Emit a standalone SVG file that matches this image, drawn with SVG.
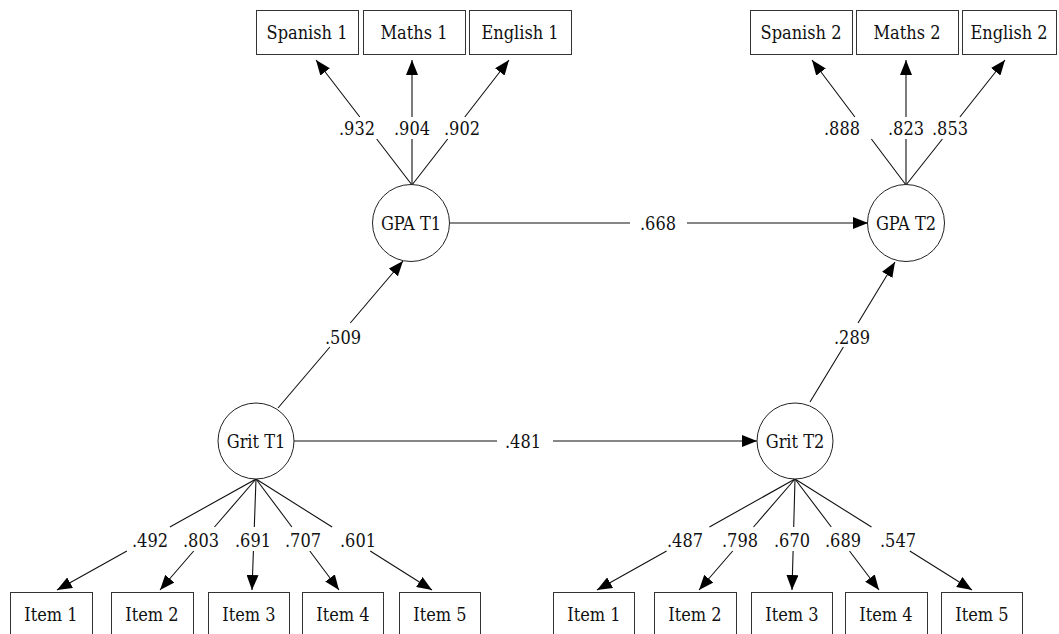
<svg xmlns="http://www.w3.org/2000/svg" width="1059" height="634" viewBox="0 0 1059 634">
<style>
text{font-family:"DejaVu Serif Condensed","DejaVu Serif",serif;font-stretch:condensed;font-size:18px;fill:#111;text-anchor:middle;dominant-baseline:central}
.box{fill:#fff;stroke:#333;stroke-width:1}
.lat{fill:#fff;stroke:#222;stroke-width:1}
.conn path{fill:none;stroke:#111;stroke-width:1.1;marker-end:url(#ah)}
</style>
<defs>
<marker id="ah" markerUnits="userSpaceOnUse" markerWidth="16" markerHeight="12" refX="15" refY="6" orient="auto">
<path d="M0,0 L15,6 L0,12 Z" fill="#000"/>
</marker>
</defs>
<rect width="1059" height="634" fill="#fff"/>
<g class="conn" id="connectors">
<path d="M412,185 L376.7,139 M359.8,117 L316,60"/>
<path d="M412,185 L412,139 M412,117 L412,60"/>
<path d="M412,185 L447.7,139 M464.8,117 L509,60"/>
<path d="M906,185 L871.4,139 M854.9,117 L812,60"/>
<path d="M906,185 L906,139 M906,117 L906,60"/>
<path d="M906,185 L942.4,139 M959.9,117 L1005,60"/>
<path d="M450,223 L630,223 M687,223 L868,223"/>
<path d="M294,441 L497,441 M553,441 L757,441"/>
<path d="M278,408 L329.9,347 M350.3,323 L403,261"/>
<path d="M810,402 L843.4,347 M858,323 L895,262"/>
<path d="M256,479 L169.9,527 M126.9,551 L57,590"/>
<path d="M256,479 L214.5,527 M193.7,551 L160,590"/>
<path d="M256,479 L254.3,527 M253.4,551 L252,590"/>
<path d="M256,479 L291.9,527 M309.8,551 L339,590"/>
<path d="M256,479 L332.1,527 M370.2,551 L432,590"/>
<path d="M795,479 L709.4,527 M666.6,551 L597,590"/>
<path d="M795,479 L753.5,527 M732.7,551 L699,590"/>
<path d="M795,479 L793.7,527 M793.1,551 L792,590"/>
<path d="M795,479 L831.3,527 M849.5,551 L879,590"/>
<path d="M795,479 L871.5,527 M909.8,551 L972,590"/>
</g>
<g id="labels">
<text x="357" y="128">.932</text>
<text x="412" y="128">.904</text>
<text x="462" y="128">.902</text>
<text x="842" y="128">.888</text>
<text x="906" y="128">.823</text>
<text x="950" y="128">.853</text>
<text x="658" y="223">.668</text>
<text x="523" y="441">.481</text>
<text x="343" y="337">.509</text>
<text x="852" y="337">.289</text>
<text x="150" y="540">.492</text>
<text x="201" y="540">.803</text>
<text x="253" y="540">.691</text>
<text x="303" y="540">.707</text>
<text x="358" y="540">.601</text>
<text x="685" y="540">.487</text>
<text x="740" y="540">.798</text>
<text x="792" y="540">.670</text>
<text x="843" y="540">.689</text>
<text x="898" y="540">.547</text>
</g>
<g id="gpa1"><circle class="lat" cx="411" cy="223" r="38.5"/><text x="411" y="223">GPA T1</text></g>
<g id="gpa2"><circle class="lat" cx="906" cy="223" r="38.5"/><text x="906" y="223">GPA T2</text></g>
<g id="grit1"><circle class="lat" cx="256" cy="441" r="38"/><text x="256" y="441">Grit T1</text></g>
<g id="grit2"><circle class="lat" cx="795" cy="441" r="38"/><text x="795" y="441">Grit T2</text></g>
<g id="spanish1"><rect class="box" x="256.5" y="10.5" width="102" height="44"/><text x="307" y="32">Spanish 1</text></g>
<g id="maths1"><rect class="box" x="363.5" y="10.5" width="102" height="44"/><text x="414" y="32">Maths 1</text></g>
<g id="english1"><rect class="box" x="469.5" y="10.5" width="102" height="44"/><text x="520" y="32">English 1</text></g>
<g id="spanish2"><rect class="box" x="750.5" y="10.5" width="102" height="44"/><text x="801" y="32">Spanish 2</text></g>
<g id="maths2"><rect class="box" x="856.5" y="10.5" width="102" height="44"/><text x="907" y="32">Maths 2</text></g>
<g id="english2"><rect class="box" x="962.5" y="10.5" width="94" height="44"/><text x="1009" y="32">English 2</text></g>
<g id="t1item1"><rect class="box" x="10.5" y="592.5" width="82" height="50"/><text x="51" y="614">Item 1</text></g>
<g id="t1item2"><rect class="box" x="111.5" y="592.5" width="82" height="50"/><text x="152" y="614">Item 2</text></g>
<g id="t1item3"><rect class="box" x="208.5" y="592.5" width="81" height="50"/><text x="249" y="614">Item 3</text></g>
<g id="t1item4"><rect class="box" x="302.5" y="592.5" width="81" height="50"/><text x="343" y="614">Item 4</text></g>
<g id="t1item5"><rect class="box" x="399.5" y="592.5" width="81" height="50"/><text x="440" y="614">Item 5</text></g>
<g id="t2item1"><rect class="box" x="553.5" y="592.5" width="81" height="50"/><text x="594" y="614">Item 1</text></g>
<g id="t2item2"><rect class="box" x="654.5" y="592.5" width="82" height="50"/><text x="695" y="614">Item 2</text></g>
<g id="t2item3"><rect class="box" x="751.5" y="592.5" width="81" height="50"/><text x="792" y="614">Item 3</text></g>
<g id="t2item4"><rect class="box" x="845.5" y="592.5" width="82" height="50"/><text x="886" y="614">Item 4</text></g>
<g id="t2item5"><rect class="box" x="941.5" y="592.5" width="81" height="50"/><text x="982" y="614">Item 5</text></g>
</svg>
